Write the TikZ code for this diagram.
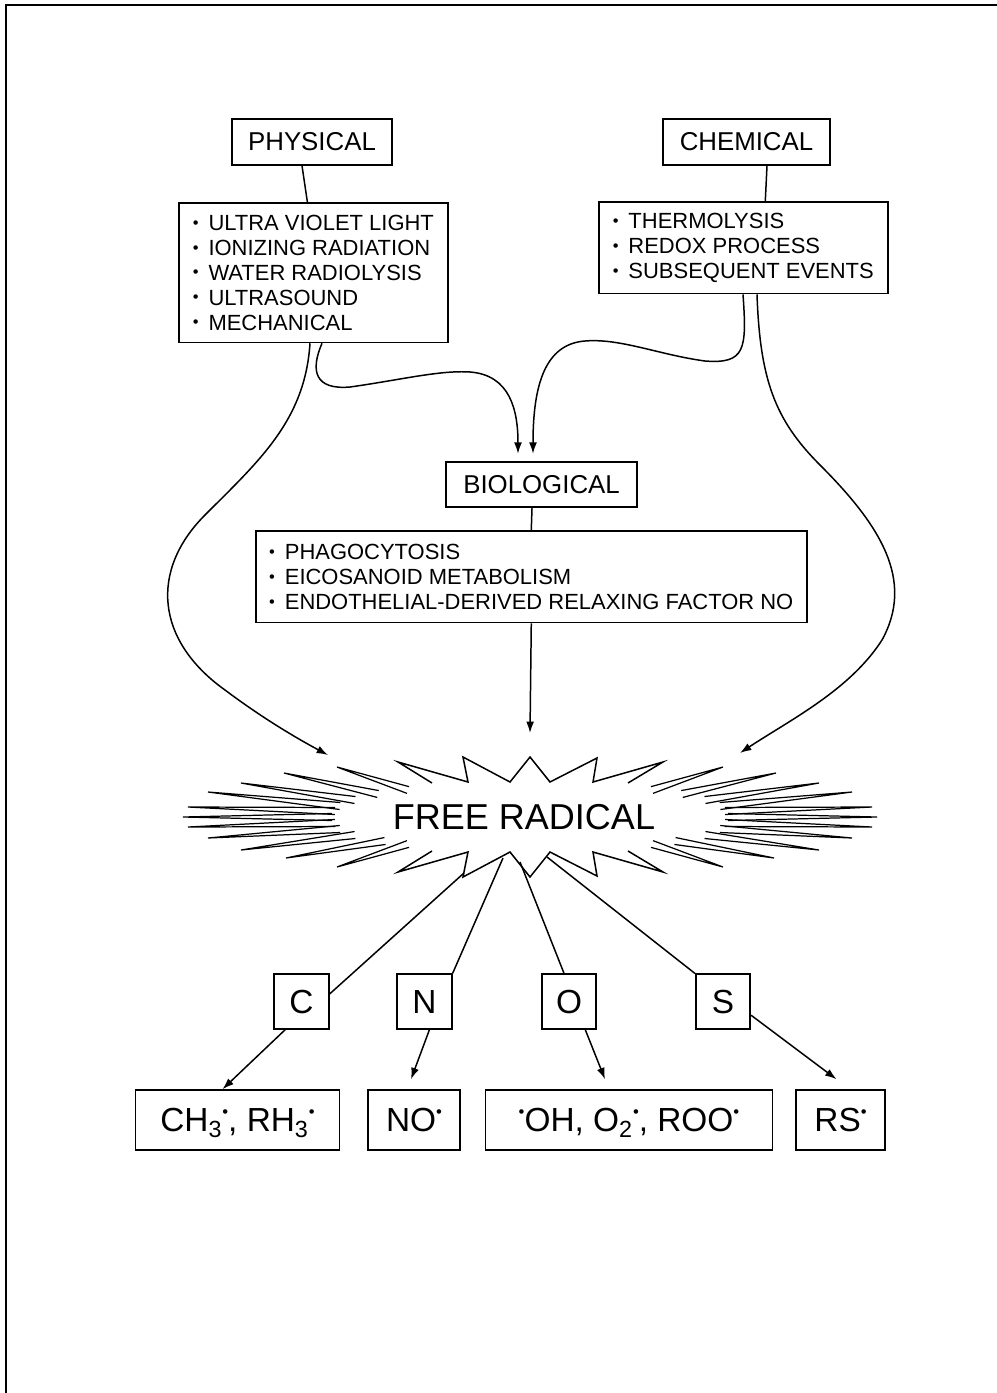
\documentclass[tikz,border=0pt]{standalone}
\usepackage{fontspec}
\usepackage{graphicx}
\setmainfont{Liberation Sans}
\usetikzlibrary{calc,arrows.meta}

\newcommand\itm{\raisebox{0.1em}{\scalebox{0.75}{•}}\hspace{0.45em}}
\newcommand\rdot{\raisebox{0.42em}{\scalebox{0.5}{•}}}

\begin{document}
\begin{tikzpicture}[x=0.02cm,y=-0.02cm,line width=0.85pt,>={Latex[length=6.5pt,width=4.5pt]}]
	\tikzset{
		headbox/.style={draw,line width=1pt,font=\fontsize{14.7}{17}\selectfont,minimum height=26pt,inner sep=0pt},
		listbox/.style={draw,line width=1pt,font=\fontsize{12.5}{14.2}\selectfont,align=left,anchor=north west,inner sep=0pt},
		elbox/.style={draw,line width=1pt,font=\fontsize{19}{22}\selectfont,minimum size=31pt,inner sep=0pt,text height=13.6pt,text depth=0pt},
		prodbox/.style={draw,line width=1pt,font=\fontsize{19}{22}\selectfont,minimum height=34pt,inner sep=0pt,text height=13.6pt,text depth=0pt}
	}
	\useasboundingbox (0,0) rectangle (997,1393);
	
	% frame
	\draw[line width=1.6pt] (6,1393) -- (6,5) -- (997,5);
	
	% sources
	\node[headbox,minimum width=90.7pt] (phys) at (312,142) {PHYSICAL};
	\node[headbox,minimum width=94.7pt] (chem) at (746.5,142) {CHEMICAL};
	\node[listbox,minimum width=153.1pt,minimum height=79.4pt] (plist) at (178,202) {\itm ULTRA VIOLET LIGHT\\ \itm IONIZING RADIATION\\ \itm WATER RADIOLYSIS\\ \itm ULTRASOUND\\ \itm MECHANICAL};
	\node[listbox,minimum width=164.4pt,minimum height=52.2pt] (clist) at (598,201) {\itm THERMOLYSIS\\ \itm REDOX PROCESS\\ \itm SUBSEQUENT EVENTS};
	\draw ($(phys.south)+(-10,0)$) -- ($(plist.north)+(-6,0)$);
	\draw ($(chem.south)+(20.5,0)$) -- ($(clist.north)+(22,0)$);
	
	\node[headbox,minimum width=108.3pt] (bio) at (541.5,484.5) {BIOLOGICAL};
	\node[listbox,minimum width=313.5pt,minimum height=52.2pt] (blist) at (255,530) {\itm PHAGOCYTOSIS\\ \itm EICOSANOID METABOLISM\\ \itm ENDOTHELIAL-DERIVED RELAXING FACTOR NO};
	\draw ($(bio.south)+(-9.5,0)$) -- (blist.north);
	
	\draw [->] ($(plist.south west)+(144,0)$) .. controls +(-12,28) and (315,390) .. (350,387) .. controls (400,380) and (440,370) .. (470,372) .. controls (510,375) and (518,410) .. ($(bio.north)+(-23.5,-7)$);
	\draw [->] ($(clist.south west)+(145,0)$) .. controls (747,350) and (745,364) .. (705,361) .. controls (660,355) and (620,338) .. (585,341) .. controls (545,344) and (533,385) .. ($(bio.north)+(-8.5,-7)$);
	
	% free radical burst
	\node[font=\fontsize{20.5}{24}\selectfont] (fr) at (524,817) {FREE RADICAL};
	\draw (432,783) -- (398,762) -- (468,782) -- (463,757) -- (510,782) -- (530,757) -- (550,782) -- (597,758) -- (593,782) -- (663,762) -- (628,783);
	\draw (432,851) -- (398,872) -- (468,852) -- (463,877) -- (510,852) -- (530,877) -- (550,852) -- (597,876) -- (593,852) -- (663,872) -- (628,851);
	\foreach \mir in {0,1}{
	\begin{scope}[shift={(1060*\mir,0)},xscale={1-2*\mir}]
	\foreach \tx/\ty/\bx/\by in {337/767/408/790, 284/773/378/794, 241/783/355/800, 208/792/340/806, 188/807/335/811, 183/817/332/817, 188/827/335/823, 208/838/340/829, 241/850/355/835, 286/858/385/841, 337/867/408/844}{
		\draw[line width=0.7pt] ($(\bx,\by)!2pt!90:(\tx,\ty)$) -- (\tx,\ty) -- ($(\bx,\by)!2pt!-90:(\tx,\ty)$);
	}
	\end{scope}
	}
	\coordinate (frl) at (328,755);
	\coordinate (frr) at (740,753);
	\coordinate (frt) at (530,733);
	\coordinate (fc) at (464,873);
	\coordinate (fn) at (503,858);
	\coordinate (fo) at (520,862);
	\coordinate (fs) at (547,857);
	
	\draw [->] ($(plist.south west)+(132,0)$) .. controls (305,420) and (260,460) .. (205,515) .. controls (150,570) and (155,640) .. (225,690) .. controls (265,720) and (300,740) .. (frl);
	\draw [->] ($(clist.south west)+(159,0)$) .. controls (760,380) and (775,420) .. (820,465) .. controls (880,525) and (915,580) .. (882,640) .. controls (850,690) and (790,720) .. (frr);
	\draw [->] (blist.south) -- (frt);
	
	% elements
	\node[elbox] (c) at (301.5,1001.5) {C};
	\node[elbox] (n) at (424.5,1001.5) {N};
	\node[elbox] (o) at (569,1001.5) {O};
	\node[elbox] (s) at (723,1001.5) {S};
	\draw (fc) -- (c.15);
	\draw (fn) -- (n.north east);
	\draw (fo) -- (o.100);
	\draw (fs) -- (s.north west);
	
	% radicals
	\node[prodbox,minimum width=116.2pt] (ch) at (237.5,1120) {CH\textsubscript{3}\rdot, RH\textsubscript{3}\rdot};
	\node[prodbox,minimum width=52.2pt] (no) at (414,1120) {NO\rdot};
	\node[prodbox,minimum width=163.3pt] (oh) at (629,1120) {\rdot OH, O\textsubscript{2}\rdot, ROO\rdot};
	\node[prodbox,minimum width=50.5pt] (rs) at (840.5,1120) {RS\rdot};
	\draw [->] (c.-120) -- ($(ch.north)+(-15,0)$);
	\draw [->] (n.-80) -- ($(no.north)+(-3,-10)$);
	\draw [->] (o.-60) -- ($(oh.north)+(-24,-10)$);
	\draw [->] (s.-26) -- ($(rs.north)+(-4,-10)$);
	
\end{tikzpicture}
\end{document}
